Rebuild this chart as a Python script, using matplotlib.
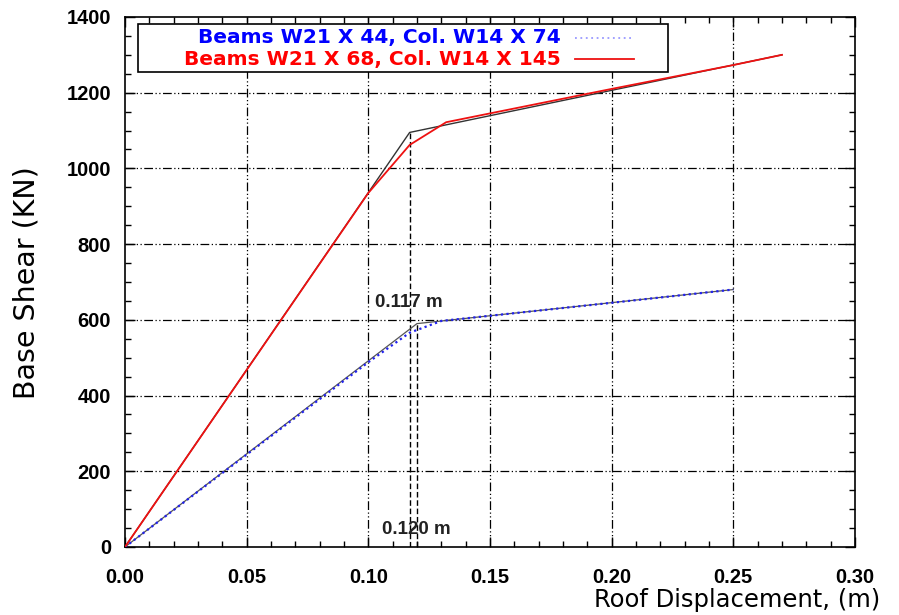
import matplotlib
matplotlib.use("Agg")
import matplotlib.pyplot as plt
from matplotlib.ticker import MultipleLocator
from matplotlib.patches import Rectangle

plt.rcParams['font.family'] = ['Liberation Sans', 'DejaVu Sans']

# pushover curves (roof displacement m, base shear kN)
x_red = [0.0, 0.100, 0.117, 0.132, 0.20, 0.25, 0.27]
y_red = [0.0, 935, 1062, 1122, 1210, 1273, 1300]
x_red_bil = [0.0, 0.117, 0.27]
y_red_bil = [0.0, 1095, 1300]

x_blue = [0.0, 0.100, 0.117, 0.130, 0.20, 0.25]
y_blue = [0.0, 488, 566, 597, 645, 680]
x_blue_bil = [0.0, 0.120, 0.25]
y_blue_bil = [0.0, 590, 680]

yield_disp = [0.117, 0.120]
yield_shear = [1095, 590]

legend_labels = ['Beams W21 X 44, Col. W14 X 74', 'Beams W21 X 68, Col. W14 X 145']

fig = plt.figure(figsize=(8.99, 6.15), dpi=100)
ax = fig.add_axes([0.139, 0.1106, 0.812, 0.8618])

grid_ls = (0, (7, 2, 1, 2, 1, 2))
for gx in [0.05, 0.10, 0.15, 0.20, 0.25]:
    ax.axvline(gx, color='black', lw=0.9, ls=grid_ls, zorder=1)
for gy in [200, 400, 600, 800, 1000, 1200]:
    ax.axhline(gy, color='black', lw=0.9, ls=grid_ls, zorder=1)

for xd, yd in zip(yield_disp, yield_shear):
    ax.plot([xd, xd], [0, yd], color='black', lw=1.0, ls=(0, (4, 2)), zorder=2)

ax.plot(x_blue_bil, y_blue_bil, color='#555555', lw=0.9, zorder=3)
ax.plot(x_blue, y_blue, color='#2222ee', lw=1.6, ls=(0, (1, 1.5)), zorder=4)
ax.plot(x_red_bil, y_red_bil, color='#333333', lw=1.0, zorder=3)
ax.plot(x_red, y_red, color='#ee1111', lw=1.3, zorder=4)

ax.text(0.1028, 647, '0.117 m', fontsize=13.5, fontweight='bold', color='#222222',
        va='center', zorder=5)
ax.text(0.1056, 47, '0.120 m', fontsize=13.5, fontweight='bold', color='#222222',
        va='center', zorder=5)

ax.set_xlim(0, 0.30)
ax.set_ylim(0, 1400)
ax.xaxis.set_major_locator(MultipleLocator(0.05))
ax.xaxis.set_minor_locator(MultipleLocator(0.01))
ax.yaxis.set_major_locator(MultipleLocator(200))
ax.yaxis.set_minor_locator(MultipleLocator(50))
ax.xaxis.set_major_formatter(plt.FuncFormatter(lambda v, p: '%.2f' % v))
ax.tick_params(which='both', direction='in', top=True, right=True, width=1)
ax.tick_params(which='major', length=7, labelsize=14.5)
ax.tick_params(axis='x', which='major', pad=15)
ax.tick_params(axis='y', which='major', pad=10)
ax.tick_params(which='minor', length=4)
for lab in ax.get_xticklabels() + ax.get_yticklabels():
    lab.set_fontweight('bold')
for s in ax.spines.values():
    s.set_linewidth(1.2)

# legend box drawn in axes fraction
ax.add_patch(Rectangle((0.018, 0.897), 0.726, 0.09, transform=ax.transAxes,
                       facecolor='white', edgecolor='black', lw=1.2, zorder=6))
leg_y = [0.961, 0.920]
leg_col = ['blue', 'red']
for lab, yy, c in zip(legend_labels, leg_y, leg_col):
    ax.text(0.597, yy, lab, transform=ax.transAxes, ha='right', va='center',
            color=c, fontsize=14.5, fontweight='bold', family='DejaVu Sans', zorder=7)
ax.plot([0.616, 0.698], [leg_y[0]] * 2, transform=ax.transAxes, color='#9999ff',
        lw=1.3, ls=(0, (1, 2)), zorder=7)
ax.plot([0.616, 0.698], [leg_y[1]] * 2, transform=ax.transAxes, color='#ee1111',
        lw=1.3, zorder=7)

fig.text(0.03, 0.541, 'Base Shear (KN)', rotation=90, fontsize=20.5, va='center',
         ha='center', family='DejaVu Sans')
fig.text(0.979, 0.024, 'Roof Displacement, (m)', fontsize=17.5, ha='right',
         va='center', family='DejaVu Sans')

fig.savefig('out.png', dpi=100)
